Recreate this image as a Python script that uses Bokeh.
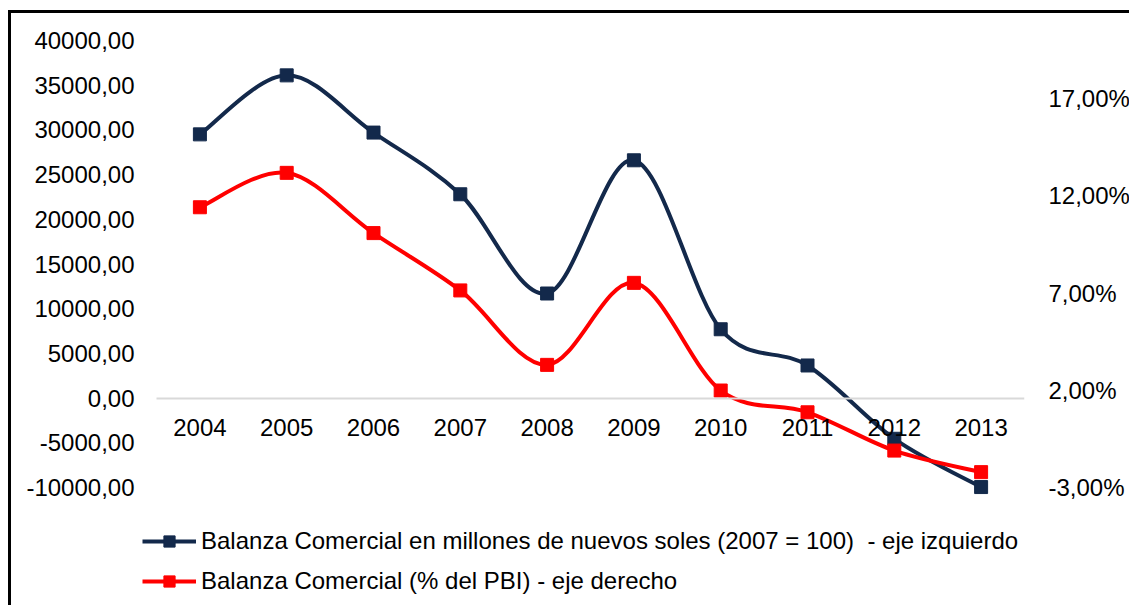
from bokeh.plotting import figure
from bokeh.models import (Range1d, LinearAxis, FixedTicker, Legend, LegendItem,
                          ColumnDataSource)
from bokeh.embed import file_html
from bokeh.resources import INLINE

# ---- data ----
years = ["2004", "2005", "2006", "2007", "2008", "2009", "2010", "2011", "2012", "2013"]
balanza_millones = [29500, 36100, 29700, 22800, 11700, 26600, 7700, 3650, -4550, -9950]
balanza_pbi = [11.42, 13.19, 10.09, 7.14, 3.31, 7.53, 1.99, 0.87, -1.10, -2.21]
left_ticks = [-10000, -5000, 0, 5000, 10000, 15000, 20000, 25000, 30000, 35000, 40000]
right_ticks = [-3, 2, 7, 12, 17]
label_millones = "Balanza Comercial en millones de nuevos soles (2007 = 100)  - eje izquierdo"
label_pbi = "Balanza Comercial (% del PBI) - eje derecho"

NAVY = "#13294b"
RED = "#ff0000"
FONT = "Liberation Sans"
FS = "24px"

# ---- layout (pixels) ----
W, H = 1121, 595
ML, MR, MT, MB = 129, 108, 27, 6          # frame borders
PLOT_H = 447                               # px spanned by the visible value axis
CAT_W = 86.8                               # px per category
EXTRA_L = 16                               # extra frame px left of the category area

LEFT_MIN, LEFT_MAX = -10000, 40000
RIGHT_MIN, RIGHT_MAX = -3, 20

frame_h = H - MT - MB
n = len(years)
xs = list(range(n))

y_bottom = LEFT_MAX - frame_h * (LEFT_MAX - LEFT_MIN) / PLOT_H
r_bottom = RIGHT_MAX - frame_h * (RIGHT_MAX - RIGHT_MIN) / PLOT_H
x_start = -0.5 - EXTRA_L / CAT_W


def smooth_segments(x, y):
    """Bezier segments (Catmull-Rom style, like a smoothed Excel line)."""
    m = len(x)
    d = dict(x0=[], y0=[], x1=[], y1=[], cx0=[], cy0=[], cx1=[], cy1=[])
    for i in range(m - 1):
        a = max(i - 1, 0)
        b = min(i + 2, m - 1)
        d["x0"].append(x[i]); d["y0"].append(y[i])
        d["x1"].append(x[i + 1]); d["y1"].append(y[i + 1])
        d["cx0"].append(x[i] + (x[i + 1] - x[a]) / 6.0)
        d["cy0"].append(y[i] + (y[i + 1] - y[a]) / 6.0)
        d["cx1"].append(x[i + 1] - (x[b] - x[i]) / 6.0)
        d["cy1"].append(y[i + 1] - (y[b] - y[i]) / 6.0)
    return ColumnDataSource(d)


p = figure(width=W, height=H,
           x_range=Range1d(x_start, n - 0.5),
           y_range=Range1d(y_bottom, LEFT_MAX),
           output_backend="svg", toolbar_location=None,
           min_border_left=ML, min_border_right=MR,
           min_border_top=MT, min_border_bottom=MB)
p.margin = (10, 0, 0, 8)
p.styles = {"border-left": "3px solid black", "border-top": "3px solid black"}
p.extra_y_ranges = {"right": Range1d(r_bottom, RIGHT_MAX)}

p.xgrid.visible = False
p.ygrid.visible = False
p.outline_line_color = None
p.background_fill_color = "white"
p.border_fill_color = "white"

# x axis at zero line
xa = p.xaxis[0]
xa.fixed_location = 0
xa.bounds = (-0.5, n - 0.5)
xa.ticker = FixedTicker(ticks=xs)
xa.major_label_overrides = {i: y for i, y in zip(xs, years)}
xa.axis_line_color = "#d9d9d9"
xa.axis_line_width = 2
xa.major_tick_line_color = None
xa.minor_tick_line_color = None
xa.major_label_standoff = 15
xa.major_label_text_font = FONT
xa.major_label_text_font_size = FS
xa.major_label_text_color = "black"

# left axis
ya = p.yaxis[0]
ya.ticker = FixedTicker(ticks=left_ticks)
ya.major_label_overrides = {t: f"{t:.2f}".replace(".", ",") for t in left_ticks}
ya.axis_line_color = None
ya.major_tick_line_color = None
ya.minor_tick_line_color = None
ya.major_label_standoff = 0
ya.major_label_text_font = FONT
ya.major_label_text_font_size = FS
ya.major_label_text_color = "black"

# right axis
ra = LinearAxis(y_range_name="right", ticker=FixedTicker(ticks=right_ticks))
ra.major_label_overrides = {t: f"{t:.2f}%".replace(".", ",") for t in right_ticks}
ra.axis_line_color = None
ra.major_tick_line_color = None
ra.minor_tick_line_color = None
ra.major_label_standoff = 18
ra.major_label_text_font = FONT
ra.major_label_text_font_size = FS
ra.major_label_text_color = "black"
p.add_layout(ra, "right")

# series
bz1 = p.bezier(x0="x0", y0="y0", x1="x1", y1="y1", cx0="cx0", cy0="cy0",
               cx1="cx1", cy1="cy1", source=smooth_segments(xs, balanza_millones),
               line_color=NAVY, line_width=4)
sc1 = p.scatter(xs, balanza_millones, marker="square", size=13,
                fill_color=NAVY, line_color=NAVY)
bz2 = p.bezier(x0="x0", y0="y0", x1="x1", y1="y1", cx0="cx0", cy0="cy0",
               cx1="cx1", cy1="cy1", source=smooth_segments(xs, balanza_pbi),
               line_color=RED, line_width=4, y_range_name="right")
sc2 = p.scatter(xs, balanza_pbi, marker="square", size=13,
                fill_color=RED, line_color=RED, y_range_name="right")

legend = Legend(items=[LegendItem(label=label_millones, renderers=[bz1, sc1]),
                       LegendItem(label=label_pbi, renderers=[bz2, sc2])],
                location=(2, 7), orientation="vertical",
                glyph_width=54, glyph_height=28, label_height=28, spacing=12,
                padding=0, margin=0, label_standoff=5,
                border_line_color=None, background_fill_alpha=0,
                label_text_font=FONT, label_text_font_size=FS,
                label_text_color="black")
p.add_layout(legend)

open("out.html", "w").write(file_html(p, INLINE))
